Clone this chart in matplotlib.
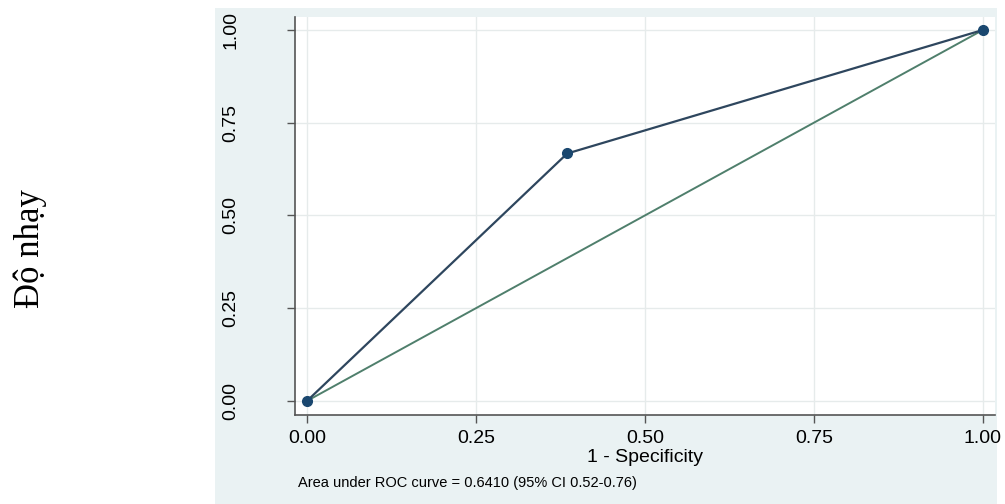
import matplotlib.pyplot as plt
from matplotlib.patches import Rectangle

# ROC points
fpr = [0.0, 0.385, 1.0]
sens = [0.0, 0.667, 1.0]
ref_x = [0.0, 1.0]
ref_y = [0.0, 1.0]
ticks = [0.0, 0.25, 0.5, 0.75, 1.0]
tick_labels = ["0.00", "0.25", "0.50", "0.75", "1.00"]
auc_note = "Area under ROC curve = 0.6410 (95% CI 0.52-0.76)"

fig = plt.figure(figsize=(10.05, 5.04), dpi=100)
fig.patch.set_facecolor("white")

# light graph region behind the plot (Stata style)
fig.patches.append(Rectangle((215 / 1005, 0), (997 - 215) / 1005, 1 - 8 / 504,
                             transform=fig.transFigure, facecolor="#eaf2f3",
                             edgecolor="none", zorder=-5))

ax = fig.add_axes([295 / 1005, 1 - 415 / 504, (995 - 295) / 1005, (415 - 17) / 504])
ax.set_zorder(1)
ax.set_facecolor("white")
ax.set_xlim(-0.0178, 1.018)
ax.set_ylim(-0.038, 1.035)

ax.plot(ref_x, ref_y, color="#4f7f6c", lw=1.4, zorder=2)
ax.plot(fpr, sens, color="#2e465e", lw=1.6, zorder=3)
ax.plot(fpr, sens, "o", color="#1a476f", ms=7, zorder=4, clip_on=False)

ax.set_xticks(ticks)
ax.set_xticklabels(tick_labels, fontsize=14, family="Liberation Sans")
ax.set_yticks(ticks)
ax.set_yticklabels(tick_labels, fontsize=14, family="Liberation Sans",
                   rotation=90, va="center")
ax.tick_params(direction="out", length=6, width=1, color="#555555", pad=5)
ax.tick_params(axis="y", pad=34)
ax.grid(True, color="#e6ebeb", lw=1)
ax.set_axisbelow(True)

for side in ["top", "right"]:
    ax.spines[side].set_visible(False)
for side in ["left", "bottom"]:
    ax.spines[side].set_color("#555555")
    ax.spines[side].set_linewidth(1.2)

fig.text(645 / 1005, 1 - 458 / 504, "1 - Specificity", fontsize=14,
         family="Liberation Sans", ha="center", va="center")
fig.text(298 / 1005, 1 - 483 / 504, auc_note, fontsize=10.5,
         family="Liberation Sans", ha="left", va="center")
fig.text(30 / 1005, 1 - 249 / 504, "Độ nhạy", fontsize=25,
         family="Liberation Serif", rotation=90, ha="center", va="center")

fig.savefig("out.png", dpi=100)
